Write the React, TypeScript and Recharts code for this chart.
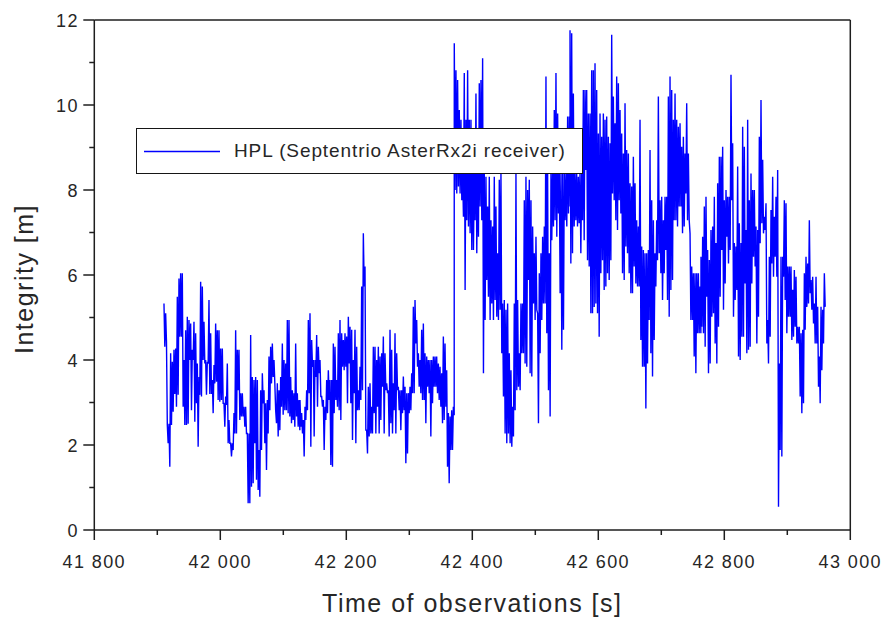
import React from 'react';
import { LineChart, Line, XAxis, YAxis, Legend, ReferenceLine, Label } from 'recharts';

// Time of the first reading in each stretch of the trace [s], and the spacing of readings [s]
const SEGMENT_STARTS = [41910.6, 42126.5, 42371.4, 42555.1, 42763.0];
const SAMPLE_STEP = 2.646;

// HPL readings [m]: for every sample column, the high and the low value of the trace
const hi1 = [5.33,5.1,2.47,2.5,4.16,3.96,4.24,4.27,5.49,5.92,6.04,6.04,4.0,4.7,5.02,4.94,4.86,4.24,4.9,4.63,3.92,3.6,5.84,5.73,4.9,4.0,3.96,5.41,4.63,3.53,3.88,4.86,4.7,4.7,4.27,4.27,2.98,3.14,3.92,2.59,2.04,2.04,2.75,4.7,4.24,4.24,3.22,3.22,2.9,2.9,2.27,2.27,4.59,3.6,3.53,3.6,3.53,1.88,3.29,3.69,3.29,2.98,3.06,4.08,4.31,4.39,4.0,2.82,3.45,3.29,3.6,4.39,4.0,3.92,4.94,4.94,3.6,3.29,3.22,4.39,3.22,3.06];
const lo1 = [4.31,4.43,2.04,1.49,2.47,2.78,3.2,2.9,3.18,4.55,4.55,2.9,2.47,2.47,2.5,4.0,2.82,4.0,2.55,2.98,1.96,3.18,3.14,4.0,3.92,3.18,3.92,3.2,3.2,2.75,3.45,3.49,3.06,3.02,3.06,2.98,2.43,2.94,2.04,2.04,1.73,1.88,2.27,2.27,3.29,2.59,2.67,2.67,2.43,2.27,0.63,0.63,1.02,1.1,2.04,1.18,0.94,0.78,1.88,2.98,2.04,1.41,2.27,2.82,3.45,3.6,3.45,2.51,2.2,2.35,2.9,2.71,2.82,2.82,2.75,2.67,2.51,2.59,2.43,2.67,2.43,2.35];

const hi2 = [3.06,2.75,2.59,2.9,3.29,4.94,5.1,4.47,4.0,4.0,4.59,4.31,4.0,3.14,3.06,2.9,3.53,3.76,3.53,3.53,4.39,4.31,3.53,4.63,4.94,4.63,4.47,4.63,4.55,5.02,4.78,4.71,4.0,4.71,4.31,3.29,3.84,5.73,6.98,6.2,2.35,3.37,3.45,2.9,4.31,4.31,4.0,4.31,4.08,4.16,4.55,4.16,3.45,3.29,4.71,4.24,3.45,4.63,4.16,3.37,3.29,3.29,3.61,3.37,3.22,3.22,3.37,3.69,5.25,5.41,4.94,4.16,4.0,4.71,4.86,4.16,4.08,4.0,4.0,4.0,4.08,4.08,4.08,3.92,3.84,3.69,4.55,4.39,3.76,2.75,2.67,2.82,2.9];
const lo2 = [2.43,2.27,1.73,2.59,2.82,3.22,1.96,3.84,2.2,3.6,2.9,3.69,3.14,2.9,1.88,2.59,2.75,3.06,1.53,1.49,2.75,3.06,2.9,2.82,2.59,3.84,3.76,3.84,2.98,3.92,2.98,2.12,3.22,2.04,2.82,2.82,3.06,3.29,5.73,2.35,1.8,2.2,2.27,2.27,2.75,2.27,2.9,2.27,2.59,3.37,2.27,3.29,3.22,2.2,2.51,2.27,2.82,2.27,3.29,2.82,2.35,2.75,2.82,1.57,1.8,2.75,2.82,3.22,3.22,4.39,3.84,3.37,3.22,3.06,3.06,2.51,3.37,3.22,2.2,2.98,3.37,3.37,3.22,3.06,2.9,2.51,2.59,2.9,1.49,1.1,1.88,1.88,2.7];

const hi3 = [11.45,10.82,10.59,9.88,9.65,8.4,10.75,9.65,10.82,9.65,9.65,9.18,8.4,10.27,8.71,10.51,10.59,11.1,8.4,8.31,7.61,8.31,7.29,7.14,8.31,7.61,6.51,8.24,8.4,5.33,5.41,5.18,5.33,4.16,3.76,2.9,5.33,8.4,5.41,4.16,5.33,5.33,7.76,8.31,8.0,8.24,7.76,7.14,6.51,6.9,5.1,6.04,6.51,6.9,7.14,10.67,8.4,6.51,8.4,8.63,9.88,10.75,9.8,8.4,8.4,8.4,8.4,8.4,9.73,9.73];
const lo3 = [8.0,7.92,8.08,7.92,7.76,7.37,5.65,7.29,7.14,6.98,6.59,6.59,7.29,6.51,6.9,7.61,7.29,3.69,4.94,5.88,5.49,4.94,5.33,4.94,5.41,5.02,4.94,5.18,4.16,3.14,2.27,2.04,2.27,2.04,1.96,2.2,2.82,3.29,3.37,3.29,4.16,4.16,3.92,3.84,5.88,3.69,3.61,5.33,4.94,5.18,2.51,4.16,4.94,5.33,5.33,4.63,3.29,2.67,6.82,7.14,7.29,6.9,7.45,5.57,4.24,4.71,7.29,7.14,7.45,7.61];

const hi4 = [11.76,11.69,10.27,8.4,8.4,8.31,8.4,8.4,10.35,10.35,10.35,9.8,9.8,10.82,10.82,10.98,10.35,9.33,9.8,9.25,9.8,9.65,9.73,9.25,9.1,11.65,10.2,9.57,10.67,10.51,9.88,9.33,8.86,10.04,8.94,8.86,8.16,8.08,8.78,8.16,7.29,7.14,9.65,6.67,6.59,6.51,6.51,6.59,8.94,7.76,7.29,6.51,7.29,10.2,7.76,7.84,7.29,7.84,7.84,10.2,10.67,10.35,9.65,10.27,9.65,9.49,9.57,9.02,9.25,8.86,10.04,8.86,6.98,6.2,6.04,6.04,6.04,6.04,5.73];
const lo4 = [6.27,6.51,7.14,7.29,7.14,7.22,6.51,7.29,6.82,8.47,6.35,6.2,5.1,5.1,5.25,5.33,5.1,4.55,6.04,6.35,5.65,5.73,6.04,5.88,6.35,7.92,7.76,7.29,7.06,7.76,7.45,6.04,5.88,6.67,6.51,6.04,5.57,5.57,6.2,5.8,5.73,5.73,4.47,3.84,3.84,2.86,3.92,4.94,4.16,3.61,4.47,5.73,6.35,6.51,6.04,5.41,6.04,6.59,5.41,5.02,5.65,5.88,7.29,7.29,7.14,7.61,7.61,6.98,7.14,7.92,7.29,7.29,4.94,4.94,4.08,3.69,4.63,4.63,4.63];

const hi5 = [6.43,6.9,7.61,7.84,6.59,6.35,7.06,7.14,7.84,6.75,8.16,8.78,8.78,9.02,7.76,8.0,7.84,7.84,10.71,9.1,6.75,6.67,8.55,7.22,6.75,9.49,9.02,7.06,9.65,7.76,8.39,8.0,8.0,7.14,7.06,9.25,10.12,8.71,7.37,7.69,4.94,6.43,7.53,8.31,7.37,7.84,8.47,3.92,6.43,6.43,7.76,7.69,6.2,6.2,6.2,5.65,6.12,5.96,4.78,4.78,4.63,4.71,6.04,6.43,6.27,7.29,5.88,5.96,5.33,5.96,5.25,4.08,5.25,5.18,6.04];
const lo5 = [4.78,4.63,4.31,5.49,3.69,3.92,5.02,5.1,4.39,3.92,4.78,5.49,6.59,5.18,5.8,6.9,6.27,6.59,7.76,5.02,5.41,5.65,4.08,4.0,4.55,4.55,5.8,4.16,4.24,4.31,5.8,6.43,6.2,4.39,5.02,6.75,7.22,6.98,7.06,4.39,3.92,4.55,6.27,5.96,6.43,5.96,0.55,1.88,1.73,5.96,5.41,4.63,5.02,5.02,4.47,4.55,4.78,4.39,4.39,3.14,2.75,2.98,4.71,5.25,5.33,5.57,5.18,4.86,4.39,4.39,3.37,2.98,3.76,4.39,5.25];

const HIGHS = [hi1, hi2, hi3, hi4, hi5];
const LOWS = [lo1, lo2, lo3, lo4, lo5];

// Axis ticks
const X_TICKS = [41800, 41900, 42000, 42100, 42200, 42300, 42400, 42500, 42600, 42700, 42800, 42900, 43000];
const Y_TICKS = [0, 1, 2, 3, 4, 5, 6, 7, 8, 9, 10, 11, 12];

const SERIES_NAME = 'HPL (Septentrio AsterRx2i receiver)';
const X_TITLE = 'Time of observations [s]';
const Y_TITLE = 'Integrity [m]';

const data: { t: number; v: number }[] = [];
SEGMENT_STARTS.forEach((t0, s) => {
  HIGHS[s].forEach((h, i) => {
    const t = t0 + i * SAMPLE_STEP;
    data.push({ t, v: h });
    data.push({ t: t + SAMPLE_STEP / 2, v: LOWS[s][i] });
  });
});

const FONT = '"Liberation Sans", Arial, Helvetica, sans-serif';
const AXIS_COLOR = '#1e1e1e';
const TEXT_COLOR = '#262626';

const fmtThousands = (v: number) => {
  const s = String(v);
  return s.length > 3 ? s.slice(0, s.length - 3) + ' ' + s.slice(-3) : s;
};

const XTick = (props: any) => {
  const { x, y, payload } = props;
  const major = payload.value % 200 === 0;
  return (
    <g>
      <line x1={x} x2={x} y1={y} y2={y + (major ? 10 : 5)} stroke={AXIS_COLOR} strokeWidth={1.5} />
      {major && (
        <text x={x} y={y + 37.5} textAnchor="middle" fontFamily={FONT} fontSize={18} letterSpacing={1.4} fill={TEXT_COLOR}>
          {fmtThousands(payload.value)}
        </text>
      )}
    </g>
  );
};

const YTick = (props: any) => {
  const { x, y, payload } = props;
  const major = payload.value % 2 === 0;
  return (
    <g>
      <line x1={x - (major ? 11 : 5)} x2={x} y1={y} y2={y} stroke={AXIS_COLOR} strokeWidth={1.5} />
      {major && (
        <text x={x - 15.5} y={y + 6.5} textAnchor="end" fontFamily={FONT} fontSize={18} letterSpacing={1.4} fill={TEXT_COLOR}>
          {payload.value}
        </text>
      )}
    </g>
  );
};

const LegendBox = () => (
  <div
    style={{
      boxSizing: 'border-box',
      width: 447,
      height: 46,
      border: '1.5px solid #161616',
      background: '#fff',
      position: 'relative',
      fontFamily: FONT,
    }}
  >
    <svg width={90} height={44} style={{ position: 'absolute', left: 5, top: 0 }}>
      <line x1={2} x2={78} y1={22.5} y2={22.5} stroke="#0000ff" strokeWidth={1.3} />
    </svg>
    <span
      style={{
        position: 'absolute',
        left: 97,
        top: 0,
        lineHeight: '43px',
        fontSize: 19,
        letterSpacing: 0.9,
        color: TEXT_COLOR,
        whiteSpace: 'nowrap',
      }}
    >
      {SERIES_NAME}
    </span>
  </div>
);

export default function App() {
  return (
    <div style={{ position: 'absolute', left: 0, top: 0, width: 882, height: 619, background: '#fff' }}>
      <LineChart width={882} height={619} data={data} margin={{ top: 20, right: 31.7, bottom: 9, left: 14.3 }}>
        <XAxis
          dataKey="t"
          type="number"
          domain={[41800, 43000]}
          allowDataOverflow
          ticks={X_TICKS}
          interval={0}
          height={80}
          tickSize={0}
          tickMargin={0}
          tickLine={false}
          tick={<XTick />}
          axisLine={{ stroke: AXIS_COLOR, strokeWidth: 1.5 }}
        >
          <Label
            content={(p: any) => {
              const vb = p.viewBox || { x: 94.3, y: 530, width: 756 };
              return (
                <text x={vb.x + vb.width / 2} y={vb.y + 81.7} textAnchor="middle" fontFamily={FONT} fontSize={25} letterSpacing={1.5} fill={TEXT_COLOR}>
                  {X_TITLE}
                </text>
              );
            }}
          />
        </XAxis>
        <YAxis
          type="number"
          domain={[0, 12]}
          allowDataOverflow
          ticks={Y_TICKS}
          interval={0}
          width={80}
          tickSize={0}
          tickMargin={0}
          tickLine={false}
          tick={<YTick />}
          axisLine={{ stroke: AXIS_COLOR, strokeWidth: 1.5 }}
        >
          <Label
            content={(p: any) => {
              const vb = p.viewBox || { x: 14.3, y: 20, height: 510 };
              const cy = vb.y + vb.height / 2 + 4;
              return (
                <text x={33} y={cy} transform={`rotate(-90 33 ${cy})`} textAnchor="middle" fontFamily={FONT} fontSize={25} letterSpacing={1.5} fill={TEXT_COLOR}>
                  {Y_TITLE}
                </text>
              );
            }}
          />
        </YAxis>
        <ReferenceLine y={12} stroke={AXIS_COLOR} strokeWidth={1.5} />
        <ReferenceLine x={43000} stroke={AXIS_COLOR} strokeWidth={1.5} />
        <Line
          type="linear"
          dataKey="v"
          name={SERIES_NAME}
          stroke="#0000ff"
          strokeWidth={1.4}
          dot={false}
          activeDot={false}
          isAnimationActive={false}
        />
        <Legend
          layout="horizontal"
          align="center"
          verticalAlign="middle"
          content={<LegendBox />}
          wrapperStyle={{ left: 136, top: 128, width: 447, height: 46 }}
        />
      </LineChart>
    </div>
  );
}
